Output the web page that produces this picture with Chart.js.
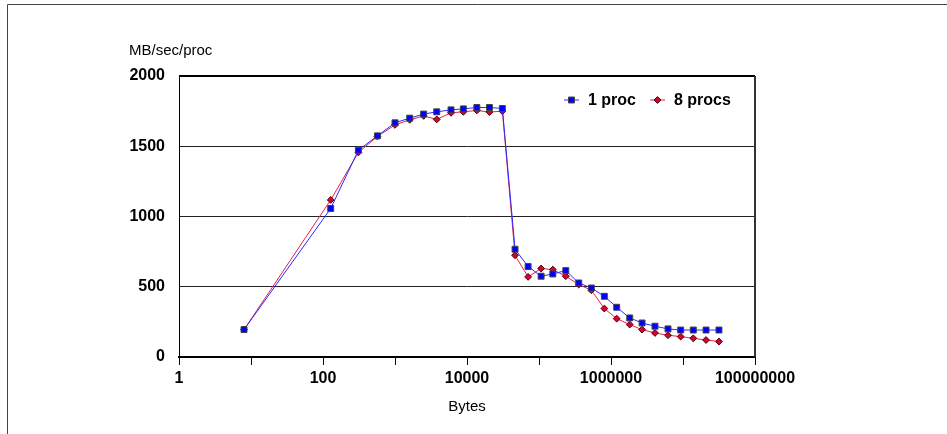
<!DOCTYPE html>
<html>
<head>
<meta charset="utf-8">
<title>MB/sec/proc</title>
<script src="https://cdn.jsdelivr.net/npm/chart.js@4.4.1/dist/chart.umd.min.js"></script>
<style>
  html, body { margin: 0; padding: 0; background: #fff; }
  canvas { display: block; }
</style>
</head>
<body>
<canvas id="myChart" width="947" height="434"></canvas>
<script>
'use strict';

// message sizes in bytes
const bytes = [8, 128, 310, 570, 1000, 1600, 2500, 3800, 6000, 8900, 13700, 20500, 31000,
  46500, 70600, 107000, 155500, 235600, 356600, 533500, 809000, 1200000, 1820000,
  2700000, 4080000, 6190000, 9290000, 13900000, 20900000, 31600000];

// bandwidth per process
const proc1 = [195, 1057, 1472, 1574, 1667, 1700, 1729, 1745, 1759, 1766, 1776, 1776, 1769,
  767, 644, 575, 591, 615, 527, 491, 432, 354, 278, 242, 219, 200, 192, 192, 192, 192];
const proc8 = [195, 1118, 1456, 1570, 1652, 1688, 1716, 1691, 1738, 1745, 1755, 1743, 1750,
  724, 570, 630, 622, 575, 516, 475, 345, 273, 231, 195, 171, 155, 145, 133, 121, 110];

const seriesNames = ['1 proc', '8 procs'];
const xTicks = [1, 10, 100, 1000, 10000, 100000, 1000000, 10000000, 100000000];
const yTicks = [0, 500, 1000, 1500, 2000];

const font = 'Liberation Sans, Arial, Helvetica, sans-serif';

function toPoints(values) {
  let points = [];
  for (let i = 0; i < bytes.length; i++) {
    points.push({ x: bytes[i], y: values[i] });
  }
  return points;
}

// frame, plot border, y title and legend
const extras = {
  id: 'extras',
  afterDraw(chart) {
    const ctx = chart.ctx;
    const area = chart.chartArea;
    ctx.save();

    // outer frame (top + left only)
    ctx.strokeStyle = '#444';
    ctx.lineWidth = 1;
    ctx.beginPath();
    ctx.moveTo(7.5, 434);
    ctx.lineTo(7.5, 4.5);
    ctx.lineTo(947, 4.5);
    ctx.stroke();

    // top and right border of plot
    ctx.strokeStyle = '#000';
    ctx.lineWidth = 2;
    ctx.beginPath();
    ctx.moveTo(area.left, area.top);
    ctx.lineTo(area.right, area.top);
    ctx.stroke();
    ctx.strokeStyle = '#333';
    ctx.beginPath();
    ctx.moveTo(area.right, area.top);
    ctx.lineTo(area.right, area.bottom);
    ctx.stroke();

    // y axis title
    ctx.fillStyle = '#000';
    ctx.font = '15px ' + font;
    ctx.textAlign = 'left';
    ctx.textBaseline = 'middle';
    ctx.fillText('MB/sec/proc', 129, 51);

    // legend
    const legendX = [564, 650];
    const y = 100;
    chart.data.datasets.forEach(function (ds, i) {
      const x0 = legendX[i];
      ctx.strokeStyle = ds.borderColor;
      ctx.lineWidth = 1;
      ctx.beginPath();
      ctx.moveTo(x0, y);
      ctx.lineTo(x0 + 15, y);
      ctx.stroke();
      ctx.fillStyle = ds.pointBackgroundColor;
      ctx.strokeStyle = ds.pointBorderColor;
      ctx.lineWidth = 1;
      Chart.helpers.drawPoint(ctx, {
        pointStyle: ds.pointStyle,
        radius: ds.pointRadius,
        rotation: 0,
        borderWidth: 1
      }, x0 + 7.5, y);
      ctx.fillStyle = '#000';
      ctx.font = 'bold 16px ' + font;
      ctx.textAlign = 'left';
      ctx.textBaseline = 'middle';
      ctx.fillText(ds.label, x0 + 24, y + 1);
    });
    ctx.restore();
  }
};

const data = {
  datasets: [{
    label: seriesNames[0],
    data: toPoints(proc1),
    borderColor: '#2a2aff',
    borderWidth: 1,
    pointStyle: 'rect',
    pointRadius: 4.2,
    pointBackgroundColor: '#0000ff',
    pointBorderColor: '#444',
    pointBorderWidth: 1
  },
  {
    label: seriesNames[1],
    data: toPoints(proc8),
    borderColor: '#e8204c',
    borderWidth: 1,
    pointStyle: 'rectRot',
    pointRadius: 3.4,
    pointBackgroundColor: '#d8002c',
    pointBorderColor: '#400',
    pointBorderWidth: 1
  }]
};

const config = {
  type: 'line',
  data: data,
  plugins: [extras],
  options: {
    responsive: false,
    animation: false,
    devicePixelRatio: 1,
    layout: {
      padding: { left: 0, right: 192, top: 76, bottom: 0 }
    },
    plugins: {
      legend: { display: false },
      tooltip: { enabled: false }
    },
    scales: {
      x: {
        type: 'logarithmic',
        min: 1,
        max: 100000000,
        afterBuildTicks: function (scale) {
          scale.ticks = xTicks.map(function (v) { return { value: v }; });
        },
        afterFit: function (scale) {
          scale.height = 77;
        },
        ticks: {
          autoSkip: false,
          maxRotation: 0,
          padding: 4,
          color: '#000',
          font: { family: font, size: 16, weight: 'bold' },
          callback: function (value) {
            const e = Math.round(Math.log10(value));
            return e % 2 === 0 ? String(value) : '';
          }
        },
        grid: {
          drawOnChartArea: false,
          drawTicks: true,
          tickLength: 8,
          color: '#000',
          lineWidth: 1
        },
        border: { display: true, color: '#000', width: 2 },
        title: {
          display: true,
          text: 'Bytes',
          color: '#000',
          font: { family: font, size: 15 },
          padding: { top: 0, bottom: 18 }
        }
      },
      y: {
        min: 0,
        max: 2000,
        afterBuildTicks: function (scale) {
          scale.ticks = yTicks.map(function (v) { return { value: v }; });
        },
        afterFit: function (scale) {
          scale.width = 179;
        },
        ticks: {
          padding: 14,
          color: '#000',
          font: { family: font, size: 16, weight: 'bold' },
          callback: function (value) {
            return String(value);
          }
        },
        grid: {
          drawTicks: false,
          color: function (c) {
            return c.tick.value === 0 || c.tick.value === 2000 ? 'rgba(0,0,0,0)' : '#222';
          },
          lineWidth: 1
        },
        border: { display: true, color: '#000', width: 1 }
      }
    }
  }
};

const myChart = new Chart(document.getElementById('myChart'), config);
</script>
</body>
</html>
